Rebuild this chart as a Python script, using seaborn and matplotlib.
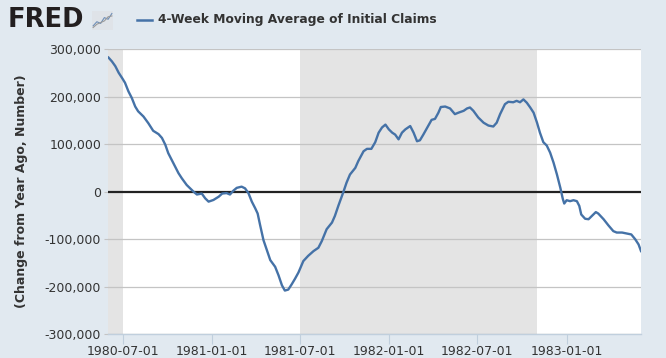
import matplotlib
matplotlib.use("Agg")
import matplotlib.pyplot as plt
from matplotlib.ticker import FuncFormatter
import pandas as pd
import seaborn as sns

# ---- data ----
dates = [
    "1980-06-02", "1980-06-09", "1980-06-16", "1980-06-23", "1980-06-30",
    "1980-07-06", "1980-07-13", "1980-07-20", "1980-07-27", "1980-08-02",
    "1980-08-13", "1980-08-23", "1980-09-02", "1980-09-13", "1980-09-20",
    "1980-09-27", "1980-10-03", "1980-10-10", "1980-10-17", "1980-10-24",
    "1980-10-31", "1980-11-10", "1980-11-17", "1980-11-24", "1980-12-01",
    "1980-12-11", "1980-12-18", "1980-12-25", "1981-01-04", "1981-01-15",
    "1981-01-22", "1981-01-31", "1981-02-07", "1981-02-14", "1981-02-21",
    "1981-03-03", "1981-03-10", "1981-03-17", "1981-03-24", "1981-03-31",
    "1981-04-05", "1981-04-10", "1981-04-17", "1981-04-24", "1981-05-01",
    "1981-05-11", "1981-05-18", "1981-05-25", "1981-05-31", "1981-06-07",
    "1981-06-14", "1981-06-21", "1981-06-28", "1981-07-08", "1981-07-18",
    "1981-07-29", "1981-08-08", "1981-08-15", "1981-08-25", "1981-09-05",
    "1981-09-11", "1981-09-18", "1981-09-28", "1981-10-05", "1981-10-12",
    "1981-10-23", "1981-10-29", "1981-11-09", "1981-11-16", "1981-11-25",
    "1981-12-03", "1981-12-10", "1981-12-17", "1981-12-24", "1981-12-31",
    "1982-01-07", "1982-01-13", "1982-01-20", "1982-01-27", "1982-02-03",
    "1982-02-13", "1982-02-20", "1982-02-27", "1982-03-05", "1982-03-12",
    "1982-03-22", "1982-03-29", "1982-04-05", "1982-04-12", "1982-04-17",
    "1982-04-26", "1982-05-06", "1982-05-16", "1982-05-23", "1982-06-03",
    "1982-06-10", "1982-06-16", "1982-06-23", "1982-07-03", "1982-07-14",
    "1982-07-24", "1982-08-03", "1982-08-10", "1982-08-17", "1982-08-27",
    "1982-09-03", "1982-09-13", "1982-09-20", "1982-09-27", "1982-10-04",
    "1982-10-11", "1982-10-18", "1982-10-25", "1982-11-01", "1982-11-07",
    "1982-11-14", "1982-11-21", "1982-11-28", "1982-12-05", "1982-12-12",
    "1982-12-19", "1982-12-24", "1982-12-27", "1983-01-01", "1983-01-08",
    "1983-01-15", "1983-01-22", "1983-01-27", "1983-01-31", "1983-02-08",
    "1983-02-15", "1983-02-22", "1983-03-02", "1983-03-07", "1983-03-18",
    "1983-03-28", "1983-04-07", "1983-04-14", "1983-04-25", "1983-05-05",
    "1983-05-14", "1983-05-22", "1983-05-29", "1983-06-03",
]
claims_change = [
    282000, 274000, 264000, 250000, 239000,
    229000, 211000, 197000, 179000, 169000,
    158000, 144000, 128000, 121000, 113000,
    98500, 81000, 67000, 53000, 39000,
    28000, 14000, 7000, 0, -6000,
    -4000, -14000, -21000, -17500, -10500,
    -4000, -3000, -6000, 2000, 8000,
    10500, 7000, -3000, -21000, -35000,
    -46000, -70000, -102000, -123000, -144000,
    -158000, -176000, -197000, -208000, -206000,
    -195000, -183000, -170000, -146000, -135000,
    -125000, -118000, -104000, -79000, -65000,
    -51000, -30000, -2000, 19000, 36000,
    50000, 64000, 85000, 90000, 90000,
    104000, 124000, 135000, 141000, 131000,
    124000, 120000, 110000, 124000, 131000,
    138000, 124000, 106000, 108000, 120000,
    138000, 151000, 153000, 166000, 178000,
    179000, 175000, 163000, 166000, 170000,
    175000, 177000, 170000, 156000, 145000,
    139000, 137000, 145000, 163000, 184000,
    189000, 188000, 191000, 188000, 194000,
    187000, 177000, 166000, 145000, 124000,
    104000, 97000, 82000, 61000, 36000,
    8000, -15000, -25000, -18000, -20000,
    -18000, -20000, -30000, -48000, -57000,
    -58000, -51000, -43000, -46000, -58000,
    -71000, -83000, -86000, -86000, -88000,
    -90000, -100000, -111000, -125000,
]
recessions = [("1980-01-01", "1980-07-01"), ("1981-07-01", "1982-11-01")]
x_ticks = ["1980-07-01", "1981-01-01", "1981-07-01", "1982-01-01", "1982-07-01", "1983-01-01"]
y_ticks = [-300000, -200000, -100000, 0, 100000, 200000, 300000]
x_range = ("1980-06-01", "1983-06-03")
series_name = "4-Week Moving Average of Initial Claims"
y_label = "(Change from Year Ago, Number)"

df = pd.DataFrame({"date": pd.to_datetime(dates), "value": claims_change})

# ---- figure ----
BG = "#e1e9f0"
LINE = "#4572a7"
TXT = "#333333"

fig = plt.figure(figsize=(6.66, 3.58), dpi=100, facecolor=BG)
ax = fig.add_axes([108 / 666, 1 - 334.3 / 358, (641 - 108) / 666, (334.3 - 49) / 358])
ax.set_facecolor("white")

xmin, xmax = pd.to_datetime(x_range[0]), pd.to_datetime(x_range[1])
for start, end in recessions:
    s = max(pd.to_datetime(start), xmin)
    e = min(pd.to_datetime(end), xmax)
    ax.axvspan(s, e, color="#e4e4e4", lw=0, zorder=0)

for yv in y_ticks:
    if yv != 0:
        ax.axhline(yv, color="#c4c4c4", lw=0.9, zorder=1)
ax.axhline(0, color="#222222", lw=1.6, zorder=2)

sns.lineplot(data=df, x="date", y="value", ax=ax, color=LINE, lw=1.7, zorder=3)

ax.set_xlim(xmin, xmax)
ax.set_ylim(-300000, 300000)
ax.set_yticks(y_ticks)
ax.yaxis.set_major_formatter(FuncFormatter(lambda v, p: f"{v:,.0f}"))
ax.set_xticks(pd.to_datetime(x_ticks))
ax.set_xticklabels(x_ticks)

ax.tick_params(axis="x", length=7, width=0.8, color="#c0cfdd", labelsize=9, labelcolor=TXT, pad=1)
ax.tick_params(axis="y", length=3, width=0.8, color="#c4c4c4", labelsize=9, labelcolor=TXT, pad=2)
for side in ["top", "right", "left"]:
    ax.spines[side].set_visible(False)
ax.spines["bottom"].set_color("#c0cfdd")
ax.spines["bottom"].set_linewidth(1.0)

ax.set_xlabel("")
ax.set_ylabel(y_label, fontsize=9, fontweight="bold", color=TXT)
ax.yaxis.set_label_coords(-0.151, 0.5)

# ---- header: FRED logo + legend ----
fig.text(8 / 666, 1 - 20 / 358, "FRED", fontsize=18.5, fontweight="bold", color="#231f20",
         va="center", ha="left")
icon = fig.add_axes([92 / 666, 1 - 30 / 358, 21 / 666, 19 / 358])
icon.set_facecolor("#dfe3e8")
icon_x = [0, 1, 2, 3, 4, 5]
icon_a = [1, 2, 1.6, 3, 2.6, 4]
icon_b = [0.6, 1.4, 1.8, 2.2, 3.2, 3.4]
icon.plot(icon_x, icon_a, color="#6f8fb8", lw=0.8)
icon.plot(icon_x, icon_b, color="#9a9a9a", lw=0.8)
icon.set_xlim(-0.3, 5.3)
icon.set_ylim(0, 4.6)
icon.set_xticks([])
icon.set_yticks([])
for s in icon.spines.values():
    s.set_visible(False)

fig.lines.append(plt.Line2D([137 / 666, 152 / 666], [1 - 20 / 358, 1 - 20 / 358],
                            transform=fig.transFigure, color=LINE, lw=1.8))
fig.text(158 / 666, 1 - 20 / 358, series_name, fontsize=8.8, fontweight="bold",
         color=TXT, va="center", ha="left")

fig.savefig("out.png", dpi=100, facecolor=BG)
